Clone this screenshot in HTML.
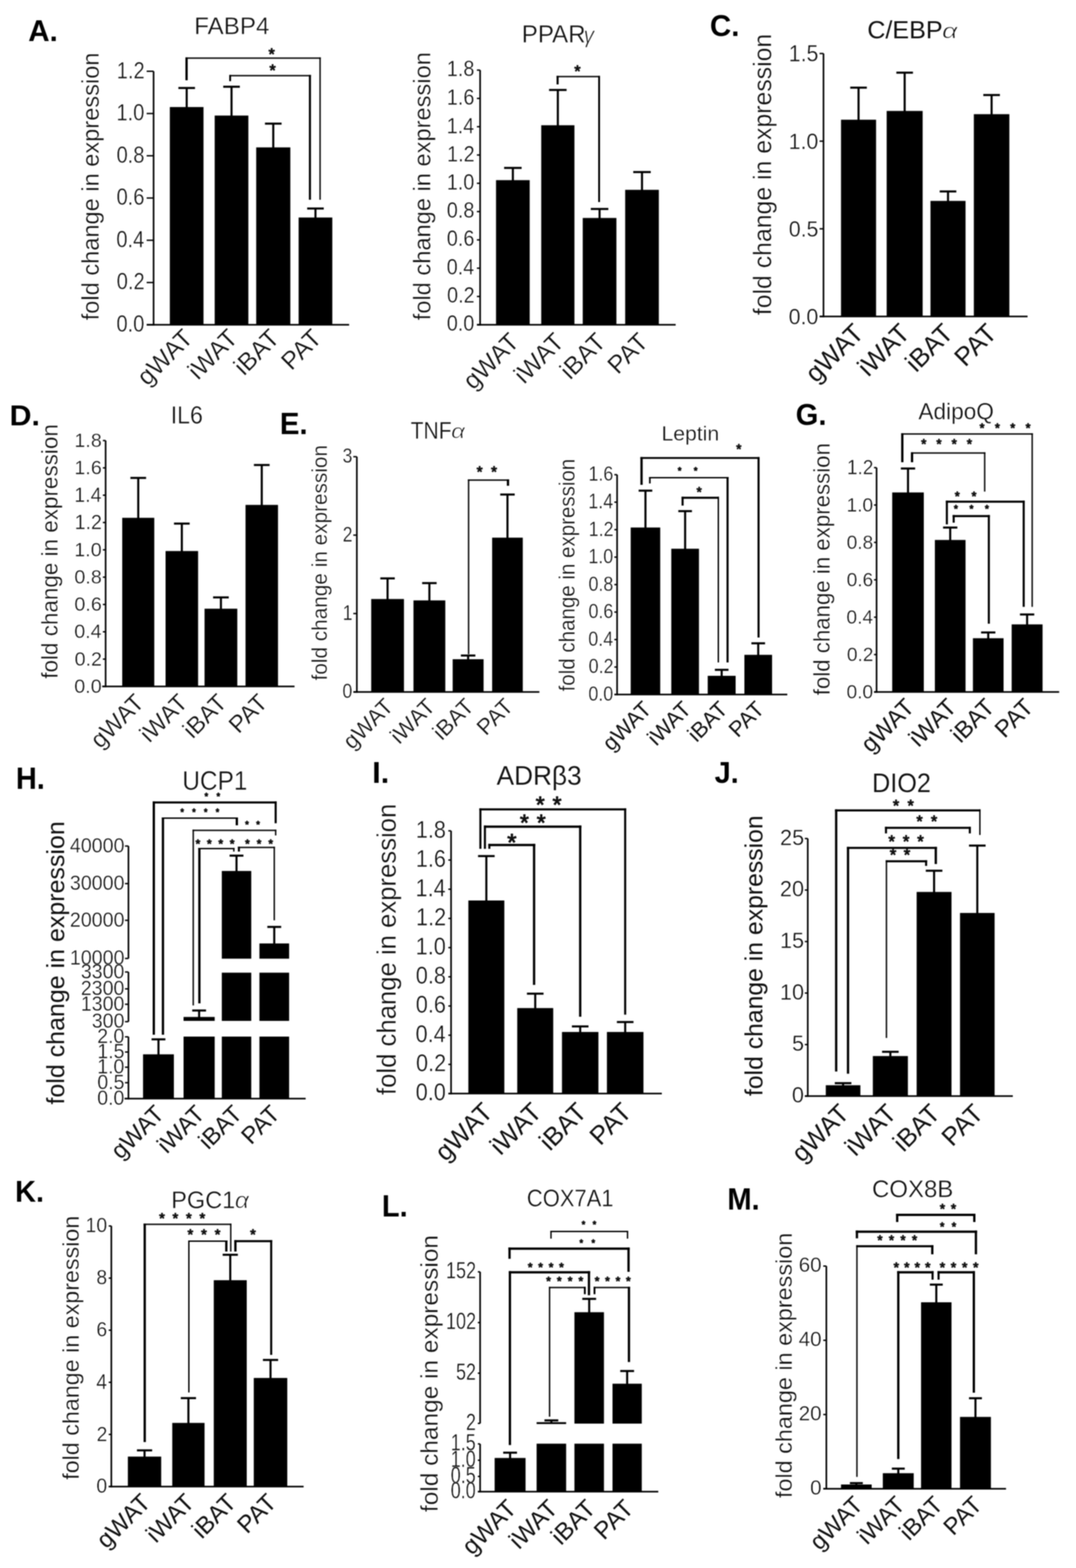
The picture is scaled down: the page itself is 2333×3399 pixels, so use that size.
<!DOCTYPE html>
<html><head><meta charset="utf-8"><title>Figure</title>
<style>html,body{margin:0;padding:0;background:#fff;}svg{display:block;filter:blur(0.8px);}
.t{fill:#111;stroke:#fff;stroke-width:0.6;}
.tb{fill:#000;font-weight:bold;}
.ts{fill:#111;font-style:italic;stroke:#fff;stroke-width:1.4;}
.tg{fill:#111;font-family:'Liberation Serif',serif;}
.st{fill:#111;stroke:#111;stroke-width:1.8px;stroke-linejoin:round;}
</style>
</head><body>
<svg width="2333" height="3399" viewBox="0 0 2333 3399" font-family="'Liberation Sans', Arial, sans-serif"><rect width="2333" height="3399" fill="#fff"/><g stroke="#000" fill="#000" stroke-linecap="butt"><line x1="333" y1="154.5" x2="333" y2="705.75" stroke-width="3.5"/>
<line x1="318" y1="704" x2="333" y2="704" stroke-width="3"/>
<line x1="318" y1="612.42" x2="333" y2="612.42" stroke-width="3"/>
<line x1="318" y1="520.83" x2="333" y2="520.83" stroke-width="3"/>
<line x1="318" y1="429.25" x2="333" y2="429.25" stroke-width="3"/>
<line x1="318" y1="337.67" x2="333" y2="337.67" stroke-width="3"/>
<line x1="318" y1="246.08" x2="333" y2="246.08" stroke-width="3"/>
<line x1="318" y1="154.5" x2="333" y2="154.5" stroke-width="3"/>
<line x1="318" y1="704" x2="757" y2="704" stroke-width="3.5"/>
<rect x="368.8" y="232.6" width="72" height="471.4"/>
<rect x="466" y="251" width="72" height="453"/>
<rect x="556" y="320" width="73" height="384"/>
<rect x="648" y="472" width="72" height="232"/>
<line x1="404.8" y1="190.8" x2="404.8" y2="232.6" stroke-width="4.5"/>
<line x1="386.8" y1="190.8" x2="422.8" y2="190.8" stroke-width="4.5"/>
<line x1="502" y1="188" x2="502" y2="251" stroke-width="4.5"/>
<line x1="484" y1="188" x2="520" y2="188" stroke-width="4.5"/>
<line x1="592.5" y1="268" x2="592.5" y2="320" stroke-width="4.5"/>
<line x1="574.5" y1="268" x2="610.5" y2="268" stroke-width="4.5"/>
<line x1="684" y1="452" x2="684" y2="472" stroke-width="4.5"/>
<line x1="666" y1="452" x2="702" y2="452" stroke-width="4.5"/>
<line x1="404.5" y1="124.5" x2="404.5" y2="174" stroke-width="5"/>
<line x1="694" y1="124.5" x2="694" y2="433" stroke-width="3"/>
<line x1="402" y1="126" x2="695.5" y2="126" stroke-width="3"/>
<line x1="499" y1="162.5" x2="499" y2="176" stroke-width="4"/>
<line x1="672" y1="162.5" x2="672" y2="433" stroke-width="4.5"/>
<line x1="497" y1="164" x2="674.25" y2="164" stroke-width="3"/>
<line x1="1041" y1="152" x2="1041" y2="705.75" stroke-width="3.5"/>
<line x1="1034" y1="704" x2="1041" y2="704" stroke-width="3"/>
<line x1="1034" y1="642.67" x2="1041" y2="642.67" stroke-width="3"/>
<line x1="1034" y1="581.33" x2="1041" y2="581.33" stroke-width="3"/>
<line x1="1034" y1="520" x2="1041" y2="520" stroke-width="3"/>
<line x1="1034" y1="458.67" x2="1041" y2="458.67" stroke-width="3"/>
<line x1="1034" y1="397.33" x2="1041" y2="397.33" stroke-width="3"/>
<line x1="1034" y1="336" x2="1041" y2="336" stroke-width="3"/>
<line x1="1034" y1="274.67" x2="1041" y2="274.67" stroke-width="3"/>
<line x1="1034" y1="213.33" x2="1041" y2="213.33" stroke-width="3"/>
<line x1="1034" y1="152" x2="1041" y2="152" stroke-width="3"/>
<line x1="1034" y1="704" x2="1465" y2="704" stroke-width="3.5"/>
<rect x="1076" y="391" width="72" height="313"/>
<rect x="1174" y="272" width="71" height="432"/>
<rect x="1264" y="473" width="72" height="231"/>
<rect x="1356" y="412" width="72" height="292"/>
<line x1="1112" y1="364" x2="1112" y2="391" stroke-width="4.5"/>
<line x1="1093" y1="364" x2="1131" y2="364" stroke-width="4.5"/>
<line x1="1209.5" y1="195" x2="1209.5" y2="272" stroke-width="4.5"/>
<line x1="1190.5" y1="195" x2="1228.5" y2="195" stroke-width="4.5"/>
<line x1="1300" y1="453" x2="1300" y2="473" stroke-width="4.5"/>
<line x1="1281" y1="453" x2="1319" y2="453" stroke-width="4.5"/>
<line x1="1392" y1="373" x2="1392" y2="412" stroke-width="4.5"/>
<line x1="1373" y1="373" x2="1411" y2="373" stroke-width="4.5"/>
<line x1="1209" y1="164.5" x2="1209" y2="183" stroke-width="4.5"/>
<line x1="1299" y1="164.5" x2="1299" y2="438" stroke-width="4"/>
<line x1="1206.75" y1="166" x2="1301" y2="166" stroke-width="3"/>
<line x1="1785.5" y1="116" x2="1785.5" y2="687.75" stroke-width="3.5"/>
<line x1="1777" y1="686" x2="1785.5" y2="686" stroke-width="3"/>
<line x1="1777" y1="496" x2="1785.5" y2="496" stroke-width="3"/>
<line x1="1777" y1="306" x2="1785.5" y2="306" stroke-width="3"/>
<line x1="1777" y1="116" x2="1785.5" y2="116" stroke-width="3"/>
<line x1="1777" y1="686" x2="2228" y2="686" stroke-width="3.5"/>
<rect x="1824" y="260" width="75" height="426"/>
<rect x="1923" y="241" width="77" height="445"/>
<rect x="2018" y="436" width="75" height="250"/>
<rect x="2112" y="248" width="76" height="438"/>
<line x1="1861.5" y1="190" x2="1861.5" y2="260" stroke-width="4.5"/>
<line x1="1843.5" y1="190" x2="1879.5" y2="190" stroke-width="4.5"/>
<line x1="1961.5" y1="157.5" x2="1961.5" y2="241" stroke-width="4.5"/>
<line x1="1943.5" y1="157.5" x2="1979.5" y2="157.5" stroke-width="4.5"/>
<line x1="2055.5" y1="415" x2="2055.5" y2="436" stroke-width="4.5"/>
<line x1="2037.5" y1="415" x2="2073.5" y2="415" stroke-width="4.5"/>
<line x1="2150" y1="206" x2="2150" y2="248" stroke-width="4.5"/>
<line x1="2132" y1="206" x2="2168" y2="206" stroke-width="4.5"/>
<line x1="229" y1="955" x2="229" y2="1489.75" stroke-width="3.5"/>
<line x1="223" y1="1488" x2="229" y2="1488" stroke-width="3"/>
<line x1="223" y1="1428.78" x2="229" y2="1428.78" stroke-width="3"/>
<line x1="223" y1="1369.56" x2="229" y2="1369.56" stroke-width="3"/>
<line x1="223" y1="1310.33" x2="229" y2="1310.33" stroke-width="3"/>
<line x1="223" y1="1251.11" x2="229" y2="1251.11" stroke-width="3"/>
<line x1="223" y1="1191.89" x2="229" y2="1191.89" stroke-width="3"/>
<line x1="223" y1="1132.67" x2="229" y2="1132.67" stroke-width="3"/>
<line x1="223" y1="1073.44" x2="229" y2="1073.44" stroke-width="3"/>
<line x1="223" y1="1014.22" x2="229" y2="1014.22" stroke-width="3"/>
<line x1="223" y1="955" x2="229" y2="955" stroke-width="3"/>
<line x1="221.5" y1="1488" x2="638.6" y2="1488" stroke-width="3.5"/>
<rect x="265.5" y="1123" width="68.5" height="365"/>
<rect x="359.5" y="1195" width="69.5" height="293"/>
<rect x="444" y="1320" width="70" height="168"/>
<rect x="532.9" y="1095" width="69.3" height="393"/>
<line x1="299.75" y1="1036" x2="299.75" y2="1123" stroke-width="4.5"/>
<line x1="282.75" y1="1036" x2="316.75" y2="1036" stroke-width="4.5"/>
<line x1="394.25" y1="1135" x2="394.25" y2="1195" stroke-width="4.5"/>
<line x1="377.25" y1="1135" x2="411.25" y2="1135" stroke-width="4.5"/>
<line x1="479" y1="1295" x2="479" y2="1320" stroke-width="4.5"/>
<line x1="462" y1="1295" x2="496" y2="1295" stroke-width="4.5"/>
<line x1="567.55" y1="1008" x2="567.55" y2="1095" stroke-width="4.5"/>
<line x1="550.55" y1="1008" x2="584.55" y2="1008" stroke-width="4.5"/>
<line x1="773.7" y1="990" x2="773.7" y2="1501.75" stroke-width="3.5"/>
<line x1="766" y1="1500" x2="773.7" y2="1500" stroke-width="3"/>
<line x1="766" y1="1330" x2="773.7" y2="1330" stroke-width="3"/>
<line x1="766" y1="1160" x2="773.7" y2="1160" stroke-width="3"/>
<line x1="766" y1="990" x2="773.7" y2="990" stroke-width="3"/>
<line x1="767" y1="1500" x2="1169.5" y2="1500" stroke-width="3.5"/>
<rect x="805.3" y="1299" width="70" height="201"/>
<rect x="897" y="1302" width="68" height="198"/>
<rect x="982" y="1429.5" width="66" height="70.5"/>
<rect x="1067.6" y="1166" width="65.4" height="334"/>
<line x1="840.3" y1="1253.8" x2="840.3" y2="1299" stroke-width="4.5"/>
<line x1="824.6" y1="1253.8" x2="856" y2="1253.8" stroke-width="4.5"/>
<line x1="931" y1="1264" x2="931" y2="1302" stroke-width="4.5"/>
<line x1="915.3" y1="1264" x2="946.7" y2="1264" stroke-width="4.5"/>
<line x1="1015" y1="1421" x2="1015" y2="1429.5" stroke-width="4.5"/>
<line x1="999.3" y1="1421" x2="1030.7" y2="1421" stroke-width="4.5"/>
<line x1="1100.3" y1="1072" x2="1100.3" y2="1166" stroke-width="4.5"/>
<line x1="1084.6" y1="1072" x2="1116" y2="1072" stroke-width="4.5"/>
<line x1="1016" y1="1039.2" x2="1016" y2="1418" stroke-width="3"/>
<line x1="1101.4" y1="1039.2" x2="1101.4" y2="1053" stroke-width="5"/>
<line x1="1014.5" y1="1040.7" x2="1103.9" y2="1040.7" stroke-width="3"/>
<line x1="1338" y1="1029" x2="1338" y2="1507.25" stroke-width="3.5"/>
<line x1="1332" y1="1505.5" x2="1338" y2="1505.5" stroke-width="3"/>
<line x1="1332" y1="1445.94" x2="1338" y2="1445.94" stroke-width="3"/>
<line x1="1332" y1="1386.38" x2="1338" y2="1386.38" stroke-width="3"/>
<line x1="1332" y1="1326.81" x2="1338" y2="1326.81" stroke-width="3"/>
<line x1="1332" y1="1267.25" x2="1338" y2="1267.25" stroke-width="3"/>
<line x1="1332" y1="1207.69" x2="1338" y2="1207.69" stroke-width="3"/>
<line x1="1332" y1="1148.12" x2="1338" y2="1148.12" stroke-width="3"/>
<line x1="1332" y1="1088.56" x2="1338" y2="1088.56" stroke-width="3"/>
<line x1="1332" y1="1029" x2="1338" y2="1029" stroke-width="3"/>
<line x1="1332" y1="1505.5" x2="1707" y2="1505.5" stroke-width="3.5"/>
<rect x="1368" y="1144" width="63" height="361.5"/>
<rect x="1456" y="1190" width="59" height="315.5"/>
<rect x="1535" y="1465.5" width="59.5" height="40"/>
<rect x="1614.5" y="1420" width="59" height="85.5"/>
<line x1="1399.5" y1="1063.6" x2="1399.5" y2="1144" stroke-width="4.5"/>
<line x1="1384.7" y1="1063.6" x2="1414.3" y2="1063.6" stroke-width="4.5"/>
<line x1="1485.5" y1="1108" x2="1485.5" y2="1190" stroke-width="4.5"/>
<line x1="1470.7" y1="1108" x2="1500.3" y2="1108" stroke-width="4.5"/>
<line x1="1564.75" y1="1452" x2="1564.75" y2="1465.5" stroke-width="4.5"/>
<line x1="1549.95" y1="1452" x2="1579.55" y2="1452" stroke-width="4.5"/>
<line x1="1644" y1="1394.5" x2="1644" y2="1420" stroke-width="4.5"/>
<line x1="1629.2" y1="1394.5" x2="1658.8" y2="1394.5" stroke-width="4.5"/>
<line x1="1391" y1="990.7" x2="1391" y2="1051" stroke-width="5"/>
<line x1="1644.7" y1="990.7" x2="1644.7" y2="1382" stroke-width="4.5"/>
<line x1="1388.5" y1="992.7" x2="1646.95" y2="992.7" stroke-width="4"/>
<line x1="1409" y1="1034.1" x2="1409" y2="1048" stroke-width="3.5"/>
<line x1="1577.5" y1="1034.1" x2="1577.5" y2="1436" stroke-width="4.5"/>
<line x1="1407.25" y1="1035.6" x2="1579.75" y2="1035.6" stroke-width="3"/>
<line x1="1480" y1="1076.75" x2="1480" y2="1096" stroke-width="4.5"/>
<line x1="1557.5" y1="1076.75" x2="1557.5" y2="1436" stroke-width="3"/>
<line x1="1477.75" y1="1079" x2="1559" y2="1079" stroke-width="4.5"/>
<line x1="1900.6" y1="1013.7" x2="1900.6" y2="1501.75" stroke-width="3.5"/>
<line x1="1895" y1="1500" x2="1900.6" y2="1500" stroke-width="3"/>
<line x1="1895" y1="1418.95" x2="1900.6" y2="1418.95" stroke-width="3"/>
<line x1="1895" y1="1337.9" x2="1900.6" y2="1337.9" stroke-width="3"/>
<line x1="1895" y1="1256.85" x2="1900.6" y2="1256.85" stroke-width="3"/>
<line x1="1895" y1="1175.8" x2="1900.6" y2="1175.8" stroke-width="3"/>
<line x1="1895" y1="1094.75" x2="1900.6" y2="1094.75" stroke-width="3"/>
<line x1="1895" y1="1013.7" x2="1900.6" y2="1013.7" stroke-width="3"/>
<line x1="1895" y1="1500" x2="2296.5" y2="1500" stroke-width="3.5"/>
<rect x="1935" y="1068" width="67.5" height="432"/>
<rect x="2027.5" y="1171" width="65.5" height="329"/>
<rect x="2110" y="1384" width="65.4" height="116"/>
<rect x="2194" y="1354" width="66" height="146"/>
<line x1="1968.75" y1="1015.6" x2="1968.75" y2="1068" stroke-width="4.5"/>
<line x1="1953.25" y1="1015.6" x2="1984.25" y2="1015.6" stroke-width="4.5"/>
<line x1="2060.25" y1="1143.6" x2="2060.25" y2="1171" stroke-width="4.5"/>
<line x1="2044.75" y1="1143.6" x2="2075.75" y2="1143.6" stroke-width="4.5"/>
<line x1="2142.7" y1="1371" x2="2142.7" y2="1384" stroke-width="4.5"/>
<line x1="2127.2" y1="1371" x2="2158.2" y2="1371" stroke-width="4.5"/>
<line x1="2227" y1="1332" x2="2227" y2="1354" stroke-width="4.5"/>
<line x1="2211.5" y1="1332" x2="2242.5" y2="1332" stroke-width="4.5"/>
<line x1="1956.4" y1="939.2" x2="1956.4" y2="1002" stroke-width="5"/>
<line x1="2238" y1="939.2" x2="2238" y2="1315.4" stroke-width="3"/>
<line x1="1953.9" y1="940.7" x2="2239.5" y2="940.7" stroke-width="3"/>
<line x1="1977.5" y1="980.5" x2="1977.5" y2="1002" stroke-width="5"/>
<line x1="2135" y1="980.5" x2="2135" y2="1065.6" stroke-width="3"/>
<line x1="1975" y1="982" x2="2136.5" y2="982" stroke-width="3"/>
<line x1="2053" y1="1085.25" x2="2053" y2="1136.7" stroke-width="4.5"/>
<line x1="2219.6" y1="1085.25" x2="2219.6" y2="1315.4" stroke-width="4.5"/>
<line x1="2050.75" y1="1087.5" x2="2221.85" y2="1087.5" stroke-width="4.5"/>
<line x1="2067.8" y1="1116.45" x2="2067.8" y2="1133" stroke-width="4.5"/>
<line x1="2144" y1="1116.45" x2="2144" y2="1352" stroke-width="4.5"/>
<line x1="2065.55" y1="1118.7" x2="2146.25" y2="1118.7" stroke-width="4.5"/>
<line x1="278.5" y1="1834" x2="278.5" y2="2077.7" stroke-width="3.5"/>
<line x1="278.5" y1="2107" x2="278.5" y2="2214.7" stroke-width="3.5"/>
<line x1="278.5" y1="2247.6" x2="278.5" y2="2383.15" stroke-width="3.5"/>
<line x1="271" y1="1834" x2="278.5" y2="1834" stroke-width="3"/>
<line x1="271" y1="1915.4" x2="278.5" y2="1915.4" stroke-width="3"/>
<line x1="271" y1="1995" x2="278.5" y2="1995" stroke-width="3"/>
<line x1="271" y1="2077.7" x2="278.5" y2="2077.7" stroke-width="3"/>
<line x1="271" y1="2107" x2="278.5" y2="2107" stroke-width="3"/>
<line x1="271" y1="2143.6" x2="278.5" y2="2143.6" stroke-width="3"/>
<line x1="271" y1="2177" x2="278.5" y2="2177" stroke-width="3"/>
<line x1="271" y1="2214.7" x2="278.5" y2="2214.7" stroke-width="3"/>
<line x1="271" y1="2247.6" x2="278.5" y2="2247.6" stroke-width="3"/>
<line x1="271" y1="2280.5" x2="278.5" y2="2280.5" stroke-width="3"/>
<line x1="271" y1="2313.4" x2="278.5" y2="2313.4" stroke-width="3"/>
<line x1="271" y1="2347" x2="278.5" y2="2347" stroke-width="3"/>
<line x1="271" y1="2381.4" x2="278.5" y2="2381.4" stroke-width="3"/>
<line x1="270" y1="2381.4" x2="662.7" y2="2381.4" stroke-width="3.5"/>
<rect x="310.7" y="2286" width="65.8" height="95.4"/>
<rect x="398.5" y="2247.6" width="66.5" height="133.8"/>
<rect x="398.5" y="2205" width="66.5" height="7.5"/>
<rect x="481.4" y="2247.6" width="62.8" height="133.8"/>
<rect x="481.4" y="2109" width="62.8" height="103.5"/>
<rect x="481.4" y="1888.6" width="62.8" height="189.1"/>
<rect x="563" y="2247.6" width="63.3" height="133.8"/>
<rect x="563" y="2109" width="63.3" height="103.5"/>
<rect x="563" y="2045.7" width="63.3" height="32"/>
<line x1="343.6" y1="2253" x2="343.6" y2="2286" stroke-width="4.5"/>
<line x1="328.6" y1="2253" x2="358.6" y2="2253" stroke-width="4.5"/>
<line x1="431.75" y1="2190.5" x2="431.75" y2="2205" stroke-width="4.5"/>
<line x1="416.75" y1="2190.5" x2="446.75" y2="2190.5" stroke-width="4.5"/>
<line x1="512.8" y1="1854.8" x2="512.8" y2="1888.6" stroke-width="4.5"/>
<line x1="497.8" y1="1854.8" x2="527.8" y2="1854.8" stroke-width="4.5"/>
<line x1="594.65" y1="2009.3" x2="594.65" y2="2045.7" stroke-width="4.5"/>
<line x1="579.65" y1="2009.3" x2="609.65" y2="2009.3" stroke-width="4.5"/>
<line x1="333.5" y1="1737.15" x2="333.5" y2="2243" stroke-width="5"/>
<line x1="597.7" y1="1737.15" x2="597.7" y2="1784.6" stroke-width="4.5"/>
<line x1="331" y1="1739.4" x2="599.95" y2="1739.4" stroke-width="4.5"/>
<line x1="353.3" y1="1772.1" x2="353.3" y2="2243" stroke-width="5"/>
<line x1="513.5" y1="1772.1" x2="513.5" y2="1789" stroke-width="5"/>
<line x1="350.8" y1="1773.6" x2="516" y2="1773.6" stroke-width="3"/>
<line x1="419" y1="1798.5" x2="419" y2="2179.5" stroke-width="3"/>
<line x1="597.7" y1="1798.5" x2="597.7" y2="1811" stroke-width="3"/>
<line x1="417.5" y1="1800" x2="599.2" y2="1800" stroke-width="3"/>
<line x1="432.3" y1="1837.9" x2="432.3" y2="2175" stroke-width="5"/>
<line x1="507" y1="1837.9" x2="507" y2="1846" stroke-width="3"/>
<line x1="429.8" y1="1839.4" x2="508.5" y2="1839.4" stroke-width="3"/>
<line x1="518" y1="1835.5" x2="518" y2="1846" stroke-width="4.5"/>
<line x1="594.7" y1="1835.5" x2="594.7" y2="1995" stroke-width="3"/>
<line x1="515.75" y1="1837" x2="596.2" y2="1837" stroke-width="3"/>
<line x1="978" y1="1801" x2="978" y2="2372.35" stroke-width="3.5"/>
<line x1="972" y1="2370.6" x2="978" y2="2370.6" stroke-width="3"/>
<line x1="972" y1="2307.31" x2="978" y2="2307.31" stroke-width="3"/>
<line x1="972" y1="2244.02" x2="978" y2="2244.02" stroke-width="3"/>
<line x1="972" y1="2180.73" x2="978" y2="2180.73" stroke-width="3"/>
<line x1="972" y1="2117.44" x2="978" y2="2117.44" stroke-width="3"/>
<line x1="972" y1="2054.16" x2="978" y2="2054.16" stroke-width="3"/>
<line x1="972" y1="1990.87" x2="978" y2="1990.87" stroke-width="3"/>
<line x1="972" y1="1927.58" x2="978" y2="1927.58" stroke-width="3"/>
<line x1="972" y1="1864.29" x2="978" y2="1864.29" stroke-width="3"/>
<line x1="972" y1="1801" x2="978" y2="1801" stroke-width="3"/>
<line x1="972" y1="2370.6" x2="1435" y2="2370.6" stroke-width="3.5"/>
<rect x="1016" y="1952.5" width="77" height="418.1"/>
<rect x="1122" y="2185.8" width="77" height="184.8"/>
<rect x="1219" y="2237.6" width="78" height="133"/>
<rect x="1316.4" y="2237.6" width="78.3" height="133"/>
<line x1="1054.5" y1="1855.7" x2="1054.5" y2="1952.5" stroke-width="4.5"/>
<line x1="1036.5" y1="1855.7" x2="1072.5" y2="1855.7" stroke-width="4.5"/>
<line x1="1160.5" y1="2154" x2="1160.5" y2="2185.8" stroke-width="4.5"/>
<line x1="1142.5" y1="2154" x2="1178.5" y2="2154" stroke-width="4.5"/>
<line x1="1258" y1="2225" x2="1258" y2="2237.6" stroke-width="4.5"/>
<line x1="1240" y1="2225" x2="1276" y2="2225" stroke-width="4.5"/>
<line x1="1355.55" y1="2215.6" x2="1355.55" y2="2237.6" stroke-width="4.5"/>
<line x1="1337.55" y1="2215.6" x2="1373.55" y2="2215.6" stroke-width="4.5"/>
<line x1="1041.6" y1="1752.25" x2="1041.6" y2="1840" stroke-width="4.5"/>
<line x1="1355.5" y1="1752.25" x2="1355.5" y2="2199.5" stroke-width="4.5"/>
<line x1="1039.35" y1="1754.5" x2="1357.75" y2="1754.5" stroke-width="4.5"/>
<line x1="1051.4" y1="1789.5" x2="1051.4" y2="1840" stroke-width="4.5"/>
<line x1="1258" y1="1789.5" x2="1258" y2="2204" stroke-width="5"/>
<line x1="1049.15" y1="1792" x2="1260.5" y2="1792" stroke-width="5"/>
<line x1="1061" y1="1829.2" x2="1061" y2="1840" stroke-width="4.5"/>
<line x1="1158" y1="1829.2" x2="1158" y2="2135" stroke-width="5"/>
<line x1="1058.75" y1="1831.7" x2="1160.5" y2="1831.7" stroke-width="5"/>
<line x1="1751.4" y1="1817.7" x2="1751.4" y2="2377.75" stroke-width="3.5"/>
<line x1="1745" y1="2376" x2="1751.4" y2="2376" stroke-width="3"/>
<line x1="1745" y1="2264.34" x2="1751.4" y2="2264.34" stroke-width="3"/>
<line x1="1745" y1="2152.68" x2="1751.4" y2="2152.68" stroke-width="3"/>
<line x1="1745" y1="2041.02" x2="1751.4" y2="2041.02" stroke-width="3"/>
<line x1="1745" y1="1929.36" x2="1751.4" y2="1929.36" stroke-width="3"/>
<line x1="1745" y1="1817.7" x2="1751.4" y2="1817.7" stroke-width="3"/>
<line x1="1745" y1="2376" x2="2196" y2="2376" stroke-width="3.5"/>
<rect x="1791" y="2353" width="74" height="23"/>
<rect x="1893" y="2289.8" width="75" height="86.2"/>
<rect x="1988" y="1934" width="74.6" height="442"/>
<rect x="2082" y="1979.6" width="74" height="396.4"/>
<line x1="1828" y1="2348" x2="1828" y2="2353" stroke-width="4.5"/>
<line x1="1810" y1="2348" x2="1846" y2="2348" stroke-width="4.5"/>
<line x1="1930.5" y1="2280" x2="1930.5" y2="2289.8" stroke-width="4.5"/>
<line x1="1912.5" y1="2280" x2="1948.5" y2="2280" stroke-width="4.5"/>
<line x1="2025.3" y1="1887.5" x2="2025.3" y2="1934" stroke-width="4.5"/>
<line x1="2007.3" y1="1887.5" x2="2043.3" y2="1887.5" stroke-width="4.5"/>
<line x1="2119" y1="1833" x2="2119" y2="1979.6" stroke-width="4.5"/>
<line x1="2101" y1="1833" x2="2137" y2="1833" stroke-width="4.5"/>
<line x1="1813" y1="1754.45" x2="1813" y2="2322.7" stroke-width="5"/>
<line x1="2124.6" y1="1754.45" x2="2124.6" y2="1810" stroke-width="3"/>
<line x1="1810.5" y1="1756.7" x2="2126.1" y2="1756.7" stroke-width="4.5"/>
<line x1="1921" y1="1792.25" x2="1921" y2="1806.6" stroke-width="4.5"/>
<line x1="2102.8" y1="1792.25" x2="2102.8" y2="1806.6" stroke-width="4.5"/>
<line x1="1918.75" y1="1794.5" x2="2105.05" y2="1794.5" stroke-width="4.5"/>
<line x1="1838.7" y1="1835.75" x2="1838.7" y2="2327.6" stroke-width="5"/>
<line x1="2029" y1="1835.75" x2="2029" y2="1873" stroke-width="5"/>
<line x1="1836.2" y1="1838" x2="2031.5" y2="1838" stroke-width="4.5"/>
<line x1="1922" y1="1864.75" x2="1922" y2="2250" stroke-width="3"/>
<line x1="2008" y1="1864.75" x2="2008" y2="1877" stroke-width="4.5"/>
<line x1="1920.5" y1="1867" x2="2010.25" y2="1867" stroke-width="4.5"/>
<line x1="241.4" y1="2657.6" x2="241.4" y2="3224.15" stroke-width="3.5"/>
<line x1="235.7" y1="3222.4" x2="241.4" y2="3222.4" stroke-width="3"/>
<line x1="235.7" y1="3109.44" x2="241.4" y2="3109.44" stroke-width="3"/>
<line x1="235.7" y1="2996.48" x2="241.4" y2="2996.48" stroke-width="3"/>
<line x1="235.7" y1="2883.52" x2="241.4" y2="2883.52" stroke-width="3"/>
<line x1="235.7" y1="2770.56" x2="241.4" y2="2770.56" stroke-width="3"/>
<line x1="235.7" y1="2657.6" x2="241.4" y2="2657.6" stroke-width="3"/>
<line x1="235.7" y1="3222.4" x2="658.3" y2="3222.4" stroke-width="3.5"/>
<rect x="277.8" y="3158" width="71.2" height="64.4"/>
<rect x="374" y="3085" width="69" height="137.4"/>
<rect x="464" y="2775.7" width="70.5" height="446.7"/>
<rect x="550.8" y="2987.6" width="71.5" height="234.8"/>
<line x1="313.4" y1="3144" x2="313.4" y2="3158" stroke-width="4.5"/>
<line x1="296.9" y1="3144" x2="329.9" y2="3144" stroke-width="4.5"/>
<line x1="408.5" y1="3030.7" x2="408.5" y2="3085" stroke-width="4.5"/>
<line x1="392" y1="3030.7" x2="425" y2="3030.7" stroke-width="4.5"/>
<line x1="499.25" y1="2720" x2="499.25" y2="2775.7" stroke-width="4.5"/>
<line x1="482.75" y1="2720" x2="515.75" y2="2720" stroke-width="4.5"/>
<line x1="586.55" y1="2948" x2="586.55" y2="2987.6" stroke-width="4.5"/>
<line x1="570.05" y1="2948" x2="603.05" y2="2948" stroke-width="4.5"/>
<line x1="313.8" y1="2652.5" x2="313.8" y2="3126" stroke-width="5"/>
<line x1="500.3" y1="2652.5" x2="500.3" y2="2713" stroke-width="3"/>
<line x1="311.3" y1="2654" x2="501.8" y2="2654" stroke-width="3"/>
<line x1="409.5" y1="2689" x2="409.5" y2="3018.4" stroke-width="3"/>
<line x1="490.7" y1="2689" x2="490.7" y2="2713" stroke-width="5"/>
<line x1="408" y1="2690.5" x2="493.2" y2="2690.5" stroke-width="3"/>
<line x1="510.4" y1="2688.25" x2="510.4" y2="2713" stroke-width="5"/>
<line x1="588" y1="2688.25" x2="588" y2="2937" stroke-width="4.5"/>
<line x1="507.9" y1="2690.5" x2="590.25" y2="2690.5" stroke-width="4.5"/>
<line x1="1041" y1="2757" x2="1041" y2="3085.5" stroke-width="3.5"/>
<line x1="1041" y1="3130" x2="1041" y2="3235.15" stroke-width="3.5"/>
<line x1="1036" y1="2757" x2="1041" y2="2757" stroke-width="3"/>
<line x1="1036" y1="2867" x2="1041" y2="2867" stroke-width="3"/>
<line x1="1036" y1="2976.7" x2="1041" y2="2976.7" stroke-width="3"/>
<line x1="1036" y1="3085.5" x2="1041" y2="3085.5" stroke-width="3"/>
<line x1="1036" y1="3130" x2="1041" y2="3130" stroke-width="3"/>
<line x1="1036" y1="3165.4" x2="1041" y2="3165.4" stroke-width="3"/>
<line x1="1036" y1="3200.5" x2="1041" y2="3200.5" stroke-width="3"/>
<line x1="1036" y1="3233.4" x2="1041" y2="3233.4" stroke-width="3"/>
<line x1="1036" y1="3233.4" x2="1427.3" y2="3233.4" stroke-width="3.5"/>
<rect x="1073" y="3161" width="66" height="72.4"/>
<rect x="1164" y="3130" width="63" height="103.4"/>
<rect x="1164" y="3083.3" width="63" height="3.1"/>
<rect x="1246" y="3130" width="63" height="103.4"/>
<rect x="1246" y="2845" width="63" height="240.5"/>
<rect x="1328.6" y="3130" width="62.4" height="103.4"/>
<rect x="1328.6" y="3000" width="62.4" height="85.5"/>
<line x1="1106" y1="3149" x2="1106" y2="3161" stroke-width="4.5"/>
<line x1="1091" y1="3149" x2="1121" y2="3149" stroke-width="4.5"/>
<line x1="1195.5" y1="3079" x2="1195.5" y2="3083.3" stroke-width="4.5"/>
<line x1="1180.5" y1="3079" x2="1210.5" y2="3079" stroke-width="4.5"/>
<line x1="1277.5" y1="2815.6" x2="1277.5" y2="2845" stroke-width="4.5"/>
<line x1="1262.5" y1="2815.6" x2="1292.5" y2="2815.6" stroke-width="4.5"/>
<line x1="1359.8" y1="2972" x2="1359.8" y2="3000" stroke-width="4.5"/>
<line x1="1344.8" y1="2972" x2="1374.8" y2="2972" stroke-width="4.5"/>
<line x1="1194.7" y1="2668" x2="1194.7" y2="2685" stroke-width="3"/>
<line x1="1360.6" y1="2668" x2="1360.6" y2="2685" stroke-width="3"/>
<line x1="1193.2" y1="2669.5" x2="1362.1" y2="2669.5" stroke-width="3"/>
<line x1="1104.8" y1="2704.3" x2="1104.8" y2="2728.7" stroke-width="5"/>
<line x1="1362.8" y1="2704.3" x2="1362.8" y2="2757" stroke-width="5"/>
<line x1="1102.3" y1="2706.8" x2="1365.3" y2="2706.8" stroke-width="5"/>
<line x1="1105.6" y1="2755.5" x2="1105.6" y2="3132.5" stroke-width="5"/>
<line x1="1277" y1="2755.5" x2="1277" y2="2807.7" stroke-width="5"/>
<line x1="1103.1" y1="2758" x2="1279.5" y2="2758" stroke-width="5"/>
<line x1="1191.6" y1="2789.5" x2="1191.6" y2="3071" stroke-width="3"/>
<line x1="1268" y1="2789.5" x2="1268" y2="2805.5" stroke-width="4"/>
<line x1="1190.1" y1="2791" x2="1270" y2="2791" stroke-width="3"/>
<line x1="1289" y1="2789.5" x2="1289" y2="2805.5" stroke-width="4"/>
<line x1="1363.7" y1="2789.5" x2="1363.7" y2="2952.5" stroke-width="5"/>
<line x1="1287" y1="2791" x2="1366.2" y2="2791" stroke-width="3"/>
<line x1="1791.7" y1="2744.5" x2="1791.7" y2="3228.95" stroke-width="3.5"/>
<line x1="1785" y1="3227.2" x2="1791.7" y2="3227.2" stroke-width="3"/>
<line x1="1785" y1="3066.3" x2="1791.7" y2="3066.3" stroke-width="3"/>
<line x1="1785" y1="2905.4" x2="1791.7" y2="2905.4" stroke-width="3"/>
<line x1="1785" y1="2744.5" x2="1791.7" y2="2744.5" stroke-width="3"/>
<line x1="1785" y1="3227.2" x2="2181.3" y2="3227.2" stroke-width="3.5"/>
<rect x="1824" y="3218.5" width="65.5" height="8.7"/>
<rect x="1914.7" y="3194" width="66" height="33.2"/>
<rect x="1997.6" y="2823.5" width="65" height="403.7"/>
<rect x="2082" y="3072" width="66" height="155.2"/>
<line x1="1856.75" y1="3215" x2="1856.75" y2="3218.5" stroke-width="4.5"/>
<line x1="1842.75" y1="3215" x2="1870.75" y2="3215" stroke-width="4.5"/>
<line x1="1947.7" y1="3183.6" x2="1947.7" y2="3194" stroke-width="4.5"/>
<line x1="1933.7" y1="3183.6" x2="1961.7" y2="3183.6" stroke-width="4.5"/>
<line x1="2030.1" y1="2784.7" x2="2030.1" y2="2823.5" stroke-width="4.5"/>
<line x1="2016.1" y1="2784.7" x2="2044.1" y2="2784.7" stroke-width="4.5"/>
<line x1="2115" y1="3031" x2="2115" y2="3072" stroke-width="4.5"/>
<line x1="2101" y1="3031" x2="2129" y2="3031" stroke-width="4.5"/>
<line x1="1945.3" y1="2631" x2="1945.3" y2="2649" stroke-width="5"/>
<line x1="2112.5" y1="2631" x2="2112.5" y2="2649" stroke-width="5"/>
<line x1="1942.8" y1="2633.5" x2="2115" y2="2633.5" stroke-width="5"/>
<line x1="1858" y1="2667.5" x2="1858" y2="2684.4" stroke-width="5"/>
<line x1="2116" y1="2667.5" x2="2116" y2="2719" stroke-width="5"/>
<line x1="1855.5" y1="2670" x2="2118.5" y2="2670" stroke-width="5"/>
<line x1="1858" y1="2699.15" x2="1858" y2="3201.5" stroke-width="3"/>
<line x1="2021.4" y1="2699.15" x2="2021.4" y2="2719" stroke-width="5"/>
<line x1="1856.5" y1="2701.4" x2="2023.9" y2="2701.4" stroke-width="4.5"/>
<line x1="1947.7" y1="2755.5" x2="1947.7" y2="3162.8" stroke-width="5"/>
<line x1="2022" y1="2755.5" x2="2022" y2="2774" stroke-width="4.5"/>
<line x1="1945.2" y1="2758" x2="2024.25" y2="2758" stroke-width="5"/>
<line x1="2035" y1="2755.5" x2="2035" y2="2774" stroke-width="4.5"/>
<line x1="2111.5" y1="2755.5" x2="2111.5" y2="3019" stroke-width="5"/>
<line x1="2032.75" y1="2758" x2="2114" y2="2758" stroke-width="5"/></g><g stroke="none"><text class="tb" x="61.2" y="88.5" font-size="64.64" textLength="64.09" lengthAdjust="spacingAndGlyphs">A.</text>
<text class="t" x="420.9" y="73.5" font-size="51.59" textLength="163.33" lengthAdjust="spacingAndGlyphs">FABP4</text>
<text class="t" transform="rotate(-90)" x="-694.37" y="213.6" font-size="52.28" textLength="580.45" lengthAdjust="spacingAndGlyphs">fold change in expression</text>
<text class="t" x="252.46" y="719.01" font-size="49.3" textLength="60.47" lengthAdjust="spacingAndGlyphs">0.0</text>
<text class="t" x="253.11" y="627.42" font-size="49.3" textLength="60.47" lengthAdjust="spacingAndGlyphs">0.2</text>
<text class="t" x="252.24" y="535.84" font-size="49.3" textLength="60.47" lengthAdjust="spacingAndGlyphs">0.4</text>
<text class="t" x="252.67" y="444.26" font-size="49.3" textLength="60.47" lengthAdjust="spacingAndGlyphs">0.6</text>
<text class="t" x="252.67" y="352.67" font-size="49.3" textLength="60.47" lengthAdjust="spacingAndGlyphs">0.8</text>
<text class="t" x="252.46" y="261.09" font-size="49.3" textLength="60.47" lengthAdjust="spacingAndGlyphs">1.0</text>
<text class="t" x="253.11" y="170" font-size="50" textLength="60.47" lengthAdjust="spacingAndGlyphs">1.2</text>
<text class="st" x="582.2" y="129.05" font-size="34.86">*</text>
<text class="st" x="584.2" y="164.05" font-size="34.86">*</text>
<text class="t" style="stroke-width:0.5" transform="translate(421.31,736.23) rotate(-45)" text-anchor="end" font-size="54.1">gWAT</text>
<text class="t" style="stroke-width:0.5" transform="translate(518.51,736.23) rotate(-45)" text-anchor="end" font-size="54.1">iWAT</text>
<text class="t" style="stroke-width:0.5" transform="translate(609.01,736.23) rotate(-45)" text-anchor="end" font-size="54.1">iBAT</text>
<text class="t" style="stroke-width:0.5" transform="translate(700.51,736.23) rotate(-45)" text-anchor="end" font-size="54.1">PAT</text>
<text class="t" x="1131.32" y="91.8" font-size="54.35" textLength="138.34" lengthAdjust="spacingAndGlyphs">PPAR</text>
<text class="ts" x="1265.16" y="93.41" font-size="50.2" textLength="23.06" lengthAdjust="spacingAndGlyphs">γ</text>
<text class="t" transform="rotate(-90)" x="-694.37" y="933" font-size="52.28" textLength="581.26" lengthAdjust="spacingAndGlyphs">fold change in expression</text>
<text class="t" x="968.65" y="717.43" font-size="47.62" textLength="59.76" lengthAdjust="spacingAndGlyphs">0.0</text>
<text class="t" x="969.3" y="656.1" font-size="47.62" textLength="59.76" lengthAdjust="spacingAndGlyphs">0.2</text>
<text class="t" x="968.44" y="594.76" font-size="47.62" textLength="59.76" lengthAdjust="spacingAndGlyphs">0.4</text>
<text class="t" x="968.87" y="533.43" font-size="47.62" textLength="59.76" lengthAdjust="spacingAndGlyphs">0.6</text>
<text class="t" x="968.87" y="472.1" font-size="47.62" textLength="59.76" lengthAdjust="spacingAndGlyphs">0.8</text>
<text class="t" x="968.65" y="410.76" font-size="47.62" textLength="59.76" lengthAdjust="spacingAndGlyphs">1.0</text>
<text class="t" x="969.3" y="349.9" font-size="48.3" textLength="59.76" lengthAdjust="spacingAndGlyphs">1.2</text>
<text class="t" x="968.44" y="288.57" font-size="49" textLength="59.76" lengthAdjust="spacingAndGlyphs">1.4</text>
<text class="t" x="968.87" y="226.76" font-size="47.62" textLength="59.76" lengthAdjust="spacingAndGlyphs">1.6</text>
<text class="t" x="968.87" y="165.43" font-size="47.62" textLength="59.76" lengthAdjust="spacingAndGlyphs">1.8</text>
<text class="st" x="1245.2" y="166.05" font-size="34.86">*</text>
<text class="t" style="stroke-width:0.5" transform="translate(1128.67,744.48) rotate(-45)" text-anchor="end" font-size="54.43">gWAT</text>
<text class="t" style="stroke-width:0.5" transform="translate(1226.17,744.48) rotate(-45)" text-anchor="end" font-size="54.43">iWAT</text>
<text class="t" style="stroke-width:0.5" transform="translate(1316.67,744.48) rotate(-45)" text-anchor="end" font-size="54.43">iBAT</text>
<text class="t" style="stroke-width:0.5" transform="translate(1408.67,744.48) rotate(-45)" text-anchor="end" font-size="54.43">PAT</text>
<text class="tb" x="1539.24" y="78.05" font-size="64.65" textLength="63.93" lengthAdjust="spacingAndGlyphs">C.</text>
<text class="t" x="1880.38" y="82.76" font-size="54.42" textLength="163.4" lengthAdjust="spacingAndGlyphs" style="stroke-width:0">C/EBP</text>
<text class="ts" x="2042.43" y="82.84" font-size="46.36" textLength="33.71" lengthAdjust="spacingAndGlyphs">α</text>
<text class="t" transform="rotate(-90)" x="-683.21" y="1672.3" font-size="54.76" textLength="609.96" lengthAdjust="spacingAndGlyphs">fold change in expression</text>
<text class="t" x="1710.07" y="702.9" font-size="49" textLength="64.25" lengthAdjust="spacingAndGlyphs">0.0</text>
<text class="t" x="1710.3" y="512.9" font-size="49" textLength="64.25" lengthAdjust="spacingAndGlyphs">0.5</text>
<text class="t" x="1710.07" y="322.9" font-size="49" textLength="64.25" lengthAdjust="spacingAndGlyphs">1.0</text>
<text class="t" x="1710.3" y="132.9" font-size="49.7" textLength="64.25" lengthAdjust="spacingAndGlyphs">1.5</text>
<text class="t" style="stroke-width:0" transform="translate(1875.86,725.48) rotate(-45)" text-anchor="end" font-size="56.54">gWAT</text>
<text class="t" style="stroke-width:0" transform="translate(1975.86,725.48) rotate(-45)" text-anchor="end" font-size="56.54">iWAT</text>
<text class="t" style="stroke-width:0" transform="translate(2069.86,725.48) rotate(-45)" text-anchor="end" font-size="56.54">iBAT</text>
<text class="t" style="stroke-width:0" transform="translate(2164.36,725.48) rotate(-45)" text-anchor="end" font-size="56.54">PAT</text>
<text class="tb" x="20.72" y="922" font-size="62.32" textLength="65.9" lengthAdjust="spacingAndGlyphs">D.</text>
<text class="t" x="370.19" y="918.16" font-size="54.37" textLength="69.73" lengthAdjust="spacingAndGlyphs">IL6</text>
<text class="t" transform="rotate(-90)" x="-1471.33" y="125.3" font-size="49.79" textLength="551.85" lengthAdjust="spacingAndGlyphs">fold change in expression</text>
<text class="t" x="161.1" y="1501.83" font-size="42.99" textLength="59.4" lengthAdjust="spacingAndGlyphs">0.0</text>
<text class="t" x="161.74" y="1442.61" font-size="42.99" textLength="59.4" lengthAdjust="spacingAndGlyphs">0.2</text>
<text class="t" x="160.89" y="1383.39" font-size="42.99" textLength="59.4" lengthAdjust="spacingAndGlyphs">0.4</text>
<text class="t" x="161.32" y="1324.16" font-size="42.99" textLength="59.4" lengthAdjust="spacingAndGlyphs">0.6</text>
<text class="t" x="161.32" y="1264.94" font-size="42.99" textLength="59.4" lengthAdjust="spacingAndGlyphs">0.8</text>
<text class="t" x="161.1" y="1205.72" font-size="42.99" textLength="59.4" lengthAdjust="spacingAndGlyphs">1.0</text>
<text class="t" x="161.74" y="1146.93" font-size="43.6" textLength="59.4" lengthAdjust="spacingAndGlyphs">1.2</text>
<text class="t" x="160.89" y="1087.7" font-size="44.23" textLength="59.4" lengthAdjust="spacingAndGlyphs">1.4</text>
<text class="t" x="161.32" y="1028.05" font-size="42.99" textLength="59.4" lengthAdjust="spacingAndGlyphs">1.6</text>
<text class="t" x="161.32" y="968.83" font-size="42.99" textLength="59.4" lengthAdjust="spacingAndGlyphs">1.8</text>
<text class="t" style="stroke-width:0.5" transform="translate(315.54,1526.19) rotate(-45)" text-anchor="end" font-size="52.1">gWAT</text>
<text class="t" style="stroke-width:0.5" transform="translate(410.04,1526.19) rotate(-45)" text-anchor="end" font-size="52.1">iWAT</text>
<text class="t" style="stroke-width:0.5" transform="translate(494.79,1526.19) rotate(-45)" text-anchor="end" font-size="52.1">iBAT</text>
<text class="t" style="stroke-width:0.5" transform="translate(583.34,1526.19) rotate(-45)" text-anchor="end" font-size="52.1">PAT</text>
<text class="tb" x="606.65" y="940.7" font-size="66.52" textLength="60.31" lengthAdjust="spacingAndGlyphs">E.</text>
<text class="t" x="890.28" y="950.6" font-size="51.59" textLength="89" lengthAdjust="spacingAndGlyphs">TNF</text>
<text class="ts" x="978.14" y="950.15" font-size="45.09" textLength="30.35" lengthAdjust="spacingAndGlyphs">α</text>
<text class="t" transform="rotate(-90)" x="-1474.97" y="708.8" font-size="45.66" textLength="510.15" lengthAdjust="spacingAndGlyphs">fold change in expression</text>
<text class="t" x="742.54" y="1513.14" font-size="45.06" textLength="21.35" lengthAdjust="spacingAndGlyphs">0</text>
<text class="t" x="742.92" y="1343.59" font-size="46.36" textLength="21.35" lengthAdjust="spacingAndGlyphs">1</text>
<text class="t" x="743.11" y="1173.59" font-size="45.7" textLength="21.35" lengthAdjust="spacingAndGlyphs">2</text>
<text class="t" x="742.73" y="1003.14" font-size="45.06" textLength="21.35" lengthAdjust="spacingAndGlyphs">3</text>
<text class="st" x="1033.4 1064.67" y="1034.47" font-size="33.14">**</text>
<text class="t" style="stroke-width:0.5" transform="translate(855.53,1534.45) rotate(-45)" text-anchor="end" font-size="48.83">gWAT</text>
<text class="t" style="stroke-width:0.5" transform="translate(946.23,1534.45) rotate(-45)" text-anchor="end" font-size="48.83">iWAT</text>
<text class="t" style="stroke-width:0.5" transform="translate(1030.23,1534.45) rotate(-45)" text-anchor="end" font-size="48.83">iBAT</text>
<text class="t" style="stroke-width:0.5" transform="translate(1115.53,1534.45) rotate(-45)" text-anchor="end" font-size="48.83">PAT</text>
<text class="t" x="1434.23" y="954.74" font-size="45.03" textLength="125.15" lengthAdjust="spacingAndGlyphs">Leptin</text>
<text class="t" transform="rotate(-90)" x="-1498.77" y="1246.4" font-size="47.45" textLength="504.31" lengthAdjust="spacingAndGlyphs">fold change in expression</text>
<text class="t" x="1275.74" y="1518.84" font-size="44.46" textLength="53.92" lengthAdjust="spacingAndGlyphs">0.0</text>
<text class="t" x="1276.33" y="1459.28" font-size="44.46" textLength="53.92" lengthAdjust="spacingAndGlyphs">0.2</text>
<text class="t" x="1275.55" y="1399.72" font-size="44.46" textLength="53.92" lengthAdjust="spacingAndGlyphs">0.4</text>
<text class="t" x="1275.94" y="1340.15" font-size="44.46" textLength="53.92" lengthAdjust="spacingAndGlyphs">0.6</text>
<text class="t" x="1275.94" y="1280.59" font-size="44.46" textLength="53.92" lengthAdjust="spacingAndGlyphs">0.8</text>
<text class="t" x="1275.74" y="1221.03" font-size="44.46" textLength="53.92" lengthAdjust="spacingAndGlyphs">1.0</text>
<text class="t" x="1276.33" y="1161.91" font-size="45.1" textLength="53.92" lengthAdjust="spacingAndGlyphs">1.2</text>
<text class="t" x="1275.55" y="1102.35" font-size="45.75" textLength="53.92" lengthAdjust="spacingAndGlyphs">1.4</text>
<text class="t" x="1275.94" y="1042.34" font-size="44.46" textLength="53.92" lengthAdjust="spacingAndGlyphs">1.6</text>
<text class="st" x="1596.32" y="983.11" font-size="29.14">*</text>
<text class="st" x="1469.59 1504.28" y="1027.09" font-size="20.86">**</text>
<text class="st" x="1510.32" y="1076.11" font-size="29.14">*</text>
<text class="t" style="stroke-width:0" transform="translate(1415.3,1540.26) rotate(-45)" text-anchor="end" font-size="47.56">gWAT</text>
<text class="t" style="stroke-width:0" transform="translate(1501.3,1540.26) rotate(-45)" text-anchor="end" font-size="47.56">iWAT</text>
<text class="t" style="stroke-width:0" transform="translate(1580.55,1540.26) rotate(-45)" text-anchor="end" font-size="47.56">iBAT</text>
<text class="t" style="stroke-width:0" transform="translate(1659.8,1540.26) rotate(-45)" text-anchor="end" font-size="47.56">PAT</text>
<text class="tb" x="1725.37" y="921.35" font-size="64.93" textLength="66.67" lengthAdjust="spacingAndGlyphs">G.</text>
<text class="t" x="1991.2" y="908.63" font-size="49.84" textLength="163.74" lengthAdjust="spacingAndGlyphs">AdipoQ</text>
<text class="t" transform="rotate(-90)" x="-1507.22" y="1798.9" font-size="50.21" textLength="546.71" lengthAdjust="spacingAndGlyphs">fold change in expression</text>
<text class="t" x="1835.58" y="1514.23" font-size="42.99" textLength="57.58" lengthAdjust="spacingAndGlyphs">0.0</text>
<text class="t" x="1836.2" y="1433.18" font-size="42.99" textLength="57.58" lengthAdjust="spacingAndGlyphs">0.2</text>
<text class="t" x="1835.37" y="1352.13" font-size="42.99" textLength="57.58" lengthAdjust="spacingAndGlyphs">0.4</text>
<text class="t" x="1835.78" y="1271.08" font-size="42.99" textLength="57.58" lengthAdjust="spacingAndGlyphs">0.6</text>
<text class="t" x="1835.78" y="1190.03" font-size="42.99" textLength="57.58" lengthAdjust="spacingAndGlyphs">0.8</text>
<text class="t" x="1835.58" y="1108.98" font-size="42.99" textLength="57.58" lengthAdjust="spacingAndGlyphs">1.0</text>
<text class="t" x="1836.2" y="1028.36" font-size="43.6" textLength="57.58" lengthAdjust="spacingAndGlyphs">1.2</text>
<text class="st" x="2123.99 2157.26 2190.54 2223.81" y="936.53" font-size="27.43">****</text>
<text class="st" x="1997.16 2030.17 2063.17 2096.17" y="972.11" font-size="29.14">****</text>
<text class="st" x="2070.19 2106.61" y="1084.53" font-size="27.43">**</text>
<text class="st" x="2068.37 2101.9 2135.44" y="1109.78" font-size="22.29">***</text>
<text class="t" style="stroke-width:0" transform="translate(1985.49,1536.06) rotate(-45)" text-anchor="end" font-size="51.83">gWAT</text>
<text class="t" style="stroke-width:0" transform="translate(2076.99,1536.06) rotate(-45)" text-anchor="end" font-size="51.83">iWAT</text>
<text class="t" style="stroke-width:0" transform="translate(2159.44,1536.06) rotate(-45)" text-anchor="end" font-size="51.83">iBAT</text>
<text class="t" style="stroke-width:0" transform="translate(2243.74,1536.06) rotate(-45)" text-anchor="end" font-size="51.83">PAT</text>
<text class="tb" x="34.53" y="1710" font-size="66.09" textLength="62.66" lengthAdjust="spacingAndGlyphs">H.</text>
<text class="t" x="395.23" y="1712.23" font-size="57.18" textLength="141.19" lengthAdjust="spacingAndGlyphs">UCP1</text>
<text class="t" transform="rotate(-90)" x="-2394.31" y="139" font-size="53.1" textLength="614.09" lengthAdjust="spacingAndGlyphs" style="stroke-width:0">fold change in expression</text>
<text class="t" x="151.56" y="1847.57" font-size="43.68" textLength="118.26" lengthAdjust="spacingAndGlyphs">40000</text>
<text class="t" x="151.56" y="1928.97" font-size="43.68" textLength="118.26" lengthAdjust="spacingAndGlyphs">30000</text>
<text class="t" x="151.56" y="2008.57" font-size="43.68" textLength="118.26" lengthAdjust="spacingAndGlyphs">20000</text>
<text class="t" x="151.56" y="2091.27" font-size="43.68" textLength="118.26" lengthAdjust="spacingAndGlyphs">10000</text>
<text class="t" x="175.16" y="2120.57" font-size="43.68" textLength="94.61" lengthAdjust="spacingAndGlyphs">3300</text>
<text class="t" x="175.16" y="2157.17" font-size="43.68" textLength="94.61" lengthAdjust="spacingAndGlyphs">2300</text>
<text class="t" x="175.16" y="2190.57" font-size="43.68" textLength="94.61" lengthAdjust="spacingAndGlyphs">1300</text>
<text class="t" x="198.98" y="2228.27" font-size="43.68" textLength="70.96" lengthAdjust="spacingAndGlyphs">300</text>
<text class="t" x="210.67" y="2261.17" font-size="43.68" textLength="59.12" lengthAdjust="spacingAndGlyphs">2.0</text>
<text class="t" x="210.89" y="2294.06" font-size="44.3" textLength="59.12" lengthAdjust="spacingAndGlyphs">1.5</text>
<text class="t" x="210.67" y="2326.97" font-size="43.68" textLength="59.12" lengthAdjust="spacingAndGlyphs">1.0</text>
<text class="t" x="210.89" y="2360.57" font-size="43.68" textLength="59.12" lengthAdjust="spacingAndGlyphs">0.5</text>
<text class="t" x="210.67" y="2394.97" font-size="43.68" textLength="59.12" lengthAdjust="spacingAndGlyphs">0.0</text>
<text class="st" x="443.6 469.6" y="1732.5" font-size="20">**</text>
<text class="st" x="391.21 416.74 442.28 467.81" y="1767.41" font-size="19.43">****</text>
<text class="st" x="531.59 555.39" y="1794.19" font-size="20.57">**</text>
<text class="st" x="424.01 448.75 473.5 498.24" y="1837.84" font-size="26.29">****</text>
<text class="st" x="531.52 556.79 582.06" y="1837.55" font-size="25.43">***</text>
<text class="t" style="stroke-width:0" transform="translate(358.75,2417.75) rotate(-45)" text-anchor="end" font-size="51.6">gWAT</text>
<text class="t" style="stroke-width:0" transform="translate(446.9,2417.75) rotate(-45)" text-anchor="end" font-size="51.6">iWAT</text>
<text class="t" style="stroke-width:0" transform="translate(527.95,2417.75) rotate(-45)" text-anchor="end" font-size="51.6">iBAT</text>
<text class="t" style="stroke-width:0" transform="translate(609.8,2417.75) rotate(-45)" text-anchor="end" font-size="51.6">PAT</text>
<text class="tb" x="806.99" y="1697.4" font-size="64.93" textLength="36.87" lengthAdjust="spacingAndGlyphs">I.</text>
<text class="t" x="1076.8" y="1700.83" font-size="57.97" textLength="184.33" lengthAdjust="spacingAndGlyphs" style="stroke-width:0.2">ADRβ3</text>
<text class="t" transform="rotate(-90)" x="-2373.64" y="858.3" font-size="56.83" textLength="631.41" lengthAdjust="spacingAndGlyphs" style="stroke-width:0.5">fold change in expression</text>
<text class="t" x="901.35" y="2385.23" font-size="52.55" textLength="65.2" lengthAdjust="spacingAndGlyphs">0.0</text>
<text class="t" x="902.05" y="2321.94" font-size="52.55" textLength="65.2" lengthAdjust="spacingAndGlyphs">0.2</text>
<text class="t" x="901.11" y="2258.65" font-size="52.55" textLength="65.2" lengthAdjust="spacingAndGlyphs">0.4</text>
<text class="t" x="901.58" y="2195.36" font-size="52.55" textLength="65.2" lengthAdjust="spacingAndGlyphs">0.6</text>
<text class="t" x="901.58" y="2132.07" font-size="52.55" textLength="65.2" lengthAdjust="spacingAndGlyphs">0.8</text>
<text class="t" x="901.35" y="2068.79" font-size="52.55" textLength="65.2" lengthAdjust="spacingAndGlyphs">1.0</text>
<text class="t" x="902.05" y="2006.02" font-size="53.3" textLength="65.2" lengthAdjust="spacingAndGlyphs">1.2</text>
<text class="t" x="901.11" y="1942.73" font-size="54.07" textLength="65.2" lengthAdjust="spacingAndGlyphs">1.4</text>
<text class="t" x="901.58" y="1878.92" font-size="52.55" textLength="65.2" lengthAdjust="spacingAndGlyphs">1.6</text>
<text class="t" x="901.58" y="1815.63" font-size="52.55" textLength="65.2" lengthAdjust="spacingAndGlyphs">1.8</text>
<text class="st" x="1161.55 1197.94" y="1762.3" font-size="50.29">**</text>
<text class="st" x="1127.15 1163.75" y="1801.2" font-size="50">**</text>
<text class="st" x="1099.86" y="1843.88" font-size="52">*</text>
<text class="t" style="stroke-width:0" transform="translate(1071.68,2414.06) rotate(-45)" text-anchor="end" font-size="56.09">gWAT</text>
<text class="t" style="stroke-width:0" transform="translate(1177.68,2414.06) rotate(-45)" text-anchor="end" font-size="56.09">iWAT</text>
<text class="t" style="stroke-width:0" transform="translate(1275.18,2414.06) rotate(-45)" text-anchor="end" font-size="56.09">iBAT</text>
<text class="t" style="stroke-width:0" transform="translate(1372.73,2414.06) rotate(-45)" text-anchor="end" font-size="56.09">PAT</text>
<text class="tb" x="1549.46" y="1696.76" font-size="64" textLength="52.26" lengthAdjust="spacingAndGlyphs">J.</text>
<text class="t" x="1890.82" y="1717.23" font-size="57.46" textLength="127.76" lengthAdjust="spacingAndGlyphs" style="stroke-width:0.2">DIO2</text>
<text class="t" transform="rotate(-90)" x="-2376" y="1652.6" font-size="53.24" textLength="608.55" lengthAdjust="spacingAndGlyphs" style="stroke-width:0">fold change in expression</text>
<text class="t" x="1717.09" y="2389.96" font-size="47.72" textLength="26.11" lengthAdjust="spacingAndGlyphs">0</text>
<text class="t" x="1717.32" y="2278.3" font-size="48.4" textLength="26.11" lengthAdjust="spacingAndGlyphs">5</text>
<text class="t" x="1691.03" y="2166.64" font-size="47.72" textLength="52.22" lengthAdjust="spacingAndGlyphs">10</text>
<text class="t" x="1691.27" y="2054.98" font-size="48.4" textLength="52.22" lengthAdjust="spacingAndGlyphs">15</text>
<text class="t" x="1691.03" y="1943.32" font-size="47.72" textLength="52.22" lengthAdjust="spacingAndGlyphs">20</text>
<text class="t" x="1691.27" y="1831.66" font-size="47.72" textLength="52.22" lengthAdjust="spacingAndGlyphs">25</text>
<text class="st" x="1935.98 1967.63" y="1758.05" font-size="34.86">**</text>
<text class="st" x="1986.88 2018.53" y="1792.05" font-size="34.86">**</text>
<text class="st" x="1926.35 1957.57 1988.79" y="1836.63" font-size="36.57">***</text>
<text class="st" x="1929.36 1959.49" y="1865.54" font-size="36.29">**</text>
<text class="t" style="stroke-width:0" transform="translate(1844.31,2416.8) rotate(-45)" text-anchor="end" font-size="55.75">gWAT</text>
<text class="t" style="stroke-width:0" transform="translate(1946.81,2416.8) rotate(-45)" text-anchor="end" font-size="55.75">iWAT</text>
<text class="t" style="stroke-width:0" transform="translate(2041.61,2416.8) rotate(-45)" text-anchor="end" font-size="55.75">iBAT</text>
<text class="t" style="stroke-width:0" transform="translate(2135.31,2416.8) rotate(-45)" text-anchor="end" font-size="55.75">PAT</text>
<text class="tb" x="32.83" y="2604.8" font-size="64.64" textLength="62.66" lengthAdjust="spacingAndGlyphs">K.</text>
<text class="t" x="371.33" y="2618.88" font-size="52.39" textLength="138.63" lengthAdjust="spacingAndGlyphs">PGC1</text>
<text class="ts" x="509" y="2618.91" font-size="49.27" textLength="30.96" lengthAdjust="spacingAndGlyphs">α</text>
<text class="t" transform="rotate(-90)" x="-3207.76" y="170.6" font-size="50.48" textLength="572.39" lengthAdjust="spacingAndGlyphs">fold change in expression</text>
<text class="t" x="208.89" y="3236.24" font-size="44.46" textLength="23.33" lengthAdjust="spacingAndGlyphs">0</text>
<text class="t" x="209.52" y="3123.72" font-size="45.1" textLength="23.33" lengthAdjust="spacingAndGlyphs">2</text>
<text class="t" x="208.68" y="3010.76" font-size="45.75" textLength="23.33" lengthAdjust="spacingAndGlyphs">4</text>
<text class="t" x="209.1" y="2897.36" font-size="44.46" textLength="23.33" lengthAdjust="spacingAndGlyphs">6</text>
<text class="t" x="209.1" y="2784.4" font-size="44.46" textLength="23.33" lengthAdjust="spacingAndGlyphs">8</text>
<text class="t" x="185.61" y="2671.44" font-size="44.46" textLength="46.66" lengthAdjust="spacingAndGlyphs">10</text>
<text class="st" x="344.92 374.11 403.31 432.5" y="2652.08" font-size="32">****</text>
<text class="st" x="406.42 435.96 465.5" y="2687.08" font-size="32">***</text>
<text class="st" x="542.26" y="2687.08" font-size="32">*</text>
<text class="t" style="stroke-width:0" transform="translate(329.3,3260.15) rotate(-45)" text-anchor="end" font-size="52.45">gWAT</text>
<text class="t" style="stroke-width:0" transform="translate(424.4,3260.15) rotate(-45)" text-anchor="end" font-size="52.45">iWAT</text>
<text class="t" style="stroke-width:0" transform="translate(515.15,3260.15) rotate(-45)" text-anchor="end" font-size="52.45">iBAT</text>
<text class="t" style="stroke-width:0" transform="translate(602.45,3260.15) rotate(-45)" text-anchor="end" font-size="52.45">PAT</text>
<text class="tb" x="828.12" y="2637.3" font-size="66.67" textLength="55.79" lengthAdjust="spacingAndGlyphs">L.</text>
<text class="t" x="1142.22" y="2615.48" font-size="52.39" textLength="188.09" lengthAdjust="spacingAndGlyphs">COX7A1</text>
<text class="t" transform="rotate(-90)" x="-3277.69" y="949" font-size="52.41" textLength="600.49" lengthAdjust="spacingAndGlyphs">fold change in expression</text>
<text class="t" x="967.02" y="2771.21" font-size="49.3" textLength="65.07" lengthAdjust="spacingAndGlyphs">152</text>
<text class="t" x="967.02" y="2881.21" font-size="49.3" textLength="65.07" lengthAdjust="spacingAndGlyphs">102</text>
<text class="t" x="988.66" y="2990.91" font-size="49.3" textLength="43.38" lengthAdjust="spacingAndGlyphs">52</text>
<text class="t" x="1010.3" y="3100.2" font-size="50" textLength="21.69" lengthAdjust="spacingAndGlyphs">2</text>
<text class="t" x="977.35" y="3144.2" font-size="50" textLength="54.22" lengthAdjust="spacingAndGlyphs">1.5</text>
<text class="t" x="977.16" y="3179.61" font-size="49.3" textLength="54.22" lengthAdjust="spacingAndGlyphs">1.0</text>
<text class="t" x="977.35" y="3214.71" font-size="49.3" textLength="54.22" lengthAdjust="spacingAndGlyphs">0.5</text>
<text class="t" x="977.16" y="3247.61" font-size="49.3" textLength="54.22" lengthAdjust="spacingAndGlyphs">0.0</text>
<text class="st" x="1261.2 1285.1" y="2661.3" font-size="20">**</text>
<text class="st" x="1256.6 1282.6" y="2700.8" font-size="20">**</text>
<text class="st" x="1144.51 1167.08 1189.66 1212.24" y="2755.64" font-size="26.29">****</text>
<text class="st" x="1184.21 1207.55 1230.9 1254.24" y="2786.14" font-size="26.29">****</text>
<text class="st" x="1289.51 1312.08 1334.66 1357.24" y="2786.14" font-size="26.29">****</text>
<text class="t" style="stroke-width:0" transform="translate(1122.99,3273.08) rotate(-45)" text-anchor="end" font-size="52.94">gWAT</text>
<text class="t" style="stroke-width:0" transform="translate(1212.49,3273.08) rotate(-45)" text-anchor="end" font-size="52.94">iWAT</text>
<text class="t" style="stroke-width:0" transform="translate(1294.49,3273.08) rotate(-45)" text-anchor="end" font-size="52.94">iBAT</text>
<text class="t" style="stroke-width:0" transform="translate(1376.79,3273.08) rotate(-45)" text-anchor="end" font-size="52.94">PAT</text>
<text class="tb" x="1576.89" y="2622" font-size="67.39" textLength="70.28" lengthAdjust="spacingAndGlyphs">M.</text>
<text class="t" x="1890.8" y="2595.37" font-size="52.54" textLength="176.21" lengthAdjust="spacingAndGlyphs">COX8B</text>
<text class="t" transform="rotate(-90)" x="-3247.36" y="1716.6" font-size="50.76" textLength="575.01" lengthAdjust="spacingAndGlyphs">fold change in expression</text>
<text class="t" x="1756.48" y="3239.74" font-size="44.46" textLength="24.83" lengthAdjust="spacingAndGlyphs">0</text>
<text class="t" x="1731.7" y="3078.84" font-size="44.46" textLength="49.67" lengthAdjust="spacingAndGlyphs">20</text>
<text class="t" x="1731.7" y="2917.94" font-size="44.46" textLength="49.67" lengthAdjust="spacingAndGlyphs">40</text>
<text class="t" x="1731.7" y="2757.04" font-size="44.46" textLength="49.67" lengthAdjust="spacingAndGlyphs">60</text>
<text class="st" x="2037.86 2061.87" y="2630.11" font-size="29.14">**</text>
<text class="st" x="2037.93 2063.48" y="2667.65" font-size="24.86">**</text>
<text class="st" x="1902.16 1927.17 1952.17 1977.17" y="2698.11" font-size="29.14">****</text>
<text class="st" x="1937.45 1960.21 1982.98 2005.74" y="2756.9" font-size="30.29">****</text>
<text class="st" x="2037.45 2061.54 2085.64 2109.74" y="2756.9" font-size="30.29">****</text>
<text class="t" style="stroke-width:0" transform="translate(1874.16,3265.19) rotate(-45)" text-anchor="end" font-size="51.68">gWAT</text>
<text class="t" style="stroke-width:0" transform="translate(1965.11,3265.19) rotate(-45)" text-anchor="end" font-size="51.68">iWAT</text>
<text class="t" style="stroke-width:0" transform="translate(2047.51,3265.19) rotate(-45)" text-anchor="end" font-size="51.68">iBAT</text>
<text class="t" style="stroke-width:0" transform="translate(2132.41,3265.19) rotate(-45)" text-anchor="end" font-size="51.68">PAT</text></g></svg>
</body></html>
